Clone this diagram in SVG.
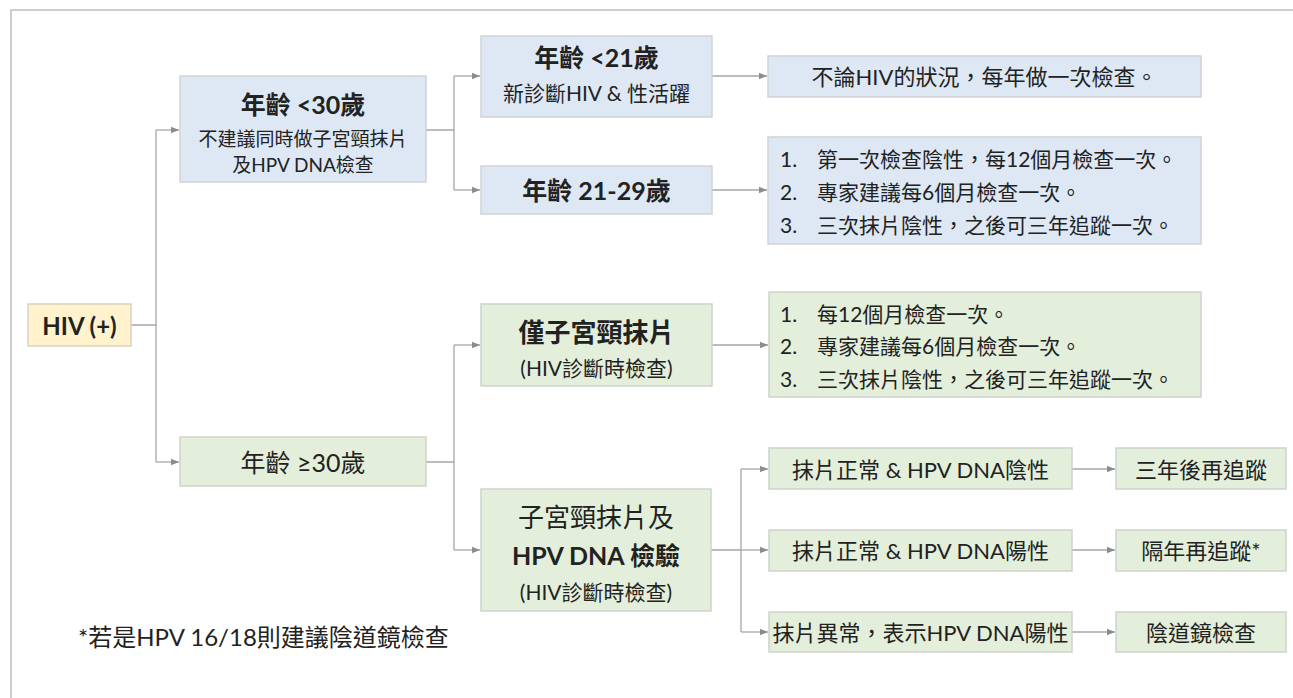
<svg xmlns="http://www.w3.org/2000/svg" width="1293" height="698" viewBox="0 0 1293 698" xml:lang="zh-Hant">
<style>
text{font-family:Lato,"Noto Sans CJK TC",sans-serif;fill:#222222;dominant-baseline:central}
.c{text-anchor:middle}
.b{font-weight:bold}
.blue{fill:#dde8f4;stroke:#cfd3d8;stroke-width:1.5}
.green{fill:#e3efda;stroke:#cfd3cc;stroke-width:1.5}
.yellow{fill:#fff2cc;stroke:#d9d3c0;stroke-width:1.5}
.conn path{fill:none;stroke:#a6a6a6;stroke-width:1.3}
.s22{font-size:22px}
.s21{font-size:21px}
.s19{font-size:19px}
</style>
<defs>
<marker id="ah" viewBox="0 0 10 10" refX="10" refY="5" markerWidth="8" markerHeight="8" markerUnits="userSpaceOnUse" orient="auto">
<path d="M0,1 L10,5 L0,9 Z" fill="#8c8c8c"/>
</marker>
</defs>
<rect x="11" y="10" width="1300" height="700" fill="#ffffff" stroke="#bfbfbf" stroke-width="1.5"/>

<g class="conn" id="connectors">
<path d="M131,325 H156 M156,130 V462"/>
<path d="M156,130 H179" marker-end="url(#ah)"/>
<path d="M156,462 H179" marker-end="url(#ah)"/>
<path d="M426,130 H454 M454,76 V190"/>
<path d="M454,76 H480" marker-end="url(#ah)"/>
<path d="M454,190 H480" marker-end="url(#ah)"/>
<path d="M712,76 H767" marker-end="url(#ah)"/>
<path d="M712,190 H767" marker-end="url(#ah)"/>
<path d="M426,462 H454 M454,345 V550"/>
<path d="M454,345 H480" marker-end="url(#ah)"/>
<path d="M454,550 H480" marker-end="url(#ah)"/>
<path d="M712,345 H768" marker-end="url(#ah)"/>
<path d="M711,550 H741 M741,469 V632"/>
<path d="M741,469 H768" marker-end="url(#ah)"/>
<path d="M741,550 H768" marker-end="url(#ah)"/>
<path d="M741,632 H768" marker-end="url(#ah)"/>
<path d="M1072,469 H1115" marker-end="url(#ah)"/>
<path d="M1072,550 H1115" marker-end="url(#ah)"/>
<path d="M1072,632 H1115" marker-end="url(#ah)"/>
</g>

<g id="hiv">
<rect class="yellow" x="28" y="304" width="103" height="42"/>
<text class="c b" x="79.5" y="325" font-size="24">HIV (+)</text>
</g>

<g id="age-lt30">
<rect class="blue" x="180" y="76" width="246" height="106"/>
<text class="c b" x="303" y="104" font-size="25">年齡 &lt;30歲</text>
<text class="c s19" x="303" y="138">不建議同時做子宮頸抹片</text>
<text class="c s19" x="303" y="164">及HPV DNA檢查</text>
</g>

<g id="age-lt21">
<rect class="blue" x="481" y="36" width="231" height="81"/>
<text class="c b" x="596.5" y="57" font-size="25">年齡 &lt;21歲</text>
<text class="c s21" x="596.5" y="92">新診斷HIV &amp; 性活躍</text>
</g>

<g id="age-21-29">
<rect class="blue" x="481" y="166" width="231" height="48"/>
<text class="c b" x="596.5" y="190" font-size="25">年齡 21-29歲</text>
</g>

<g id="res-lt21">
<rect class="blue" x="768" y="56" width="433" height="41"/>
<text class="c s22" x="984.5" y="76">不論HIV的狀況，每年做一次檢查。</text>
</g>

<g id="res-21-29">
<rect class="blue" x="768" y="137" width="433" height="107"/>
<text class="s21" x="780" y="158">1.</text>
<text class="s21" x="817" y="158">第一次檢查陰性，每12個月檢查一次。</text>
<text class="s21" x="780" y="191">2.</text>
<text class="s21" x="817" y="191">專家建議每6個月檢查一次。</text>
<text class="s21" x="780" y="224">3.</text>
<text class="s21" x="817" y="224">三次抹片陰性，之後可三年追蹤一次。</text>
</g>

<g id="age-ge30">
<rect class="green" x="180" y="437" width="246" height="49"/>
<text class="c" x="303" y="462" font-size="25">年齡 ≥30歲</text>
</g>

<g id="pap-only">
<rect class="green" x="481" y="304" width="231" height="82"/>
<text class="c b" x="596.5" y="332" font-size="26">僅子宮頸抹片</text>
<text class="c s21" x="596.5" y="367">(HIV診斷時檢查)</text>
</g>

<g id="res-pap-only">
<rect class="green" x="769" y="292" width="432" height="105"/>
<text class="s21" x="780" y="313">1.</text>
<text class="s21" x="817" y="313">每12個月檢查一次。</text>
<text class="s21" x="780" y="345">2.</text>
<text class="s21" x="817" y="345">專家建議每6個月檢查一次。</text>
<text class="s21" x="780" y="378">3.</text>
<text class="s21" x="817" y="378">三次抹片陰性，之後可三年追蹤一次。</text>
</g>

<g id="co-test">
<rect class="green" x="481" y="489" width="230" height="122"/>
<text class="c" x="596" y="517" font-size="26">子宮頸抹片及</text>
<text class="c b" x="596" y="555" font-size="25">HPV DNA 檢驗</text>
<text class="c s21" x="596" y="591">(HIV診斷時檢查)</text>
</g>

<g id="neg">
<rect class="green" x="769" y="448" width="303" height="41"/>
<text class="c s22" x="920.5" y="469">抹片正常 &amp; HPV DNA陰性</text>
</g>
<g id="pos">
<rect class="green" x="769" y="530" width="303" height="41"/>
<text class="c s22" x="920.5" y="550">抹片正常 &amp; HPV DNA陽性</text>
</g>
<g id="abn">
<rect class="green" x="769" y="612" width="303" height="40"/>
<text class="c s22" x="920.5" y="632">抹片異常，表示HPV DNA陽性</text>
</g>

<g id="f3y">
<rect class="green" x="1116" y="448" width="170" height="41"/>
<text class="c s22" x="1201" y="469">三年後再追蹤</text>
</g>
<g id="f1y">
<rect class="green" x="1116" y="530" width="170" height="41"/>
<text class="c s22" x="1201" y="550">隔年再追蹤*</text>
</g>
<g id="colpo">
<rect class="green" x="1116" y="612" width="170" height="40"/>
<text class="c s22" x="1201" y="632">陰道鏡檢查</text>
</g>

<g id="footnote">
<text x="78" y="636" font-size="24">*若是HPV 16/18則建議陰道鏡檢查</text>
</g>
</svg>
